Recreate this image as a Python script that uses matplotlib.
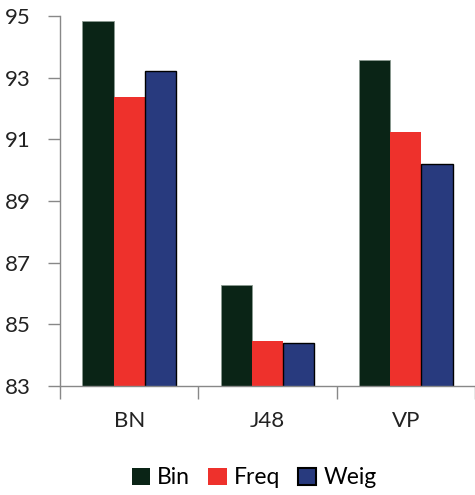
import numpy as np
from matplotlib import pyplot as plt
from matplotlib.patches import Patch

plt.rcParams["font.family"] = ["Lato", "DejaVu Sans"]

categories = ["BN", "J48", "VP"]
series_names = ["Bin", "Freq", "Weig"]
bin_vals = [94.85, 86.27, 93.57]
freq_vals = [92.37, 84.45, 91.23]
weig_vals = [93.22, 84.38, 90.2]
y_ticks = [83, 85, 87, 89, 91, 93, 95]

colors = ["#0a2416", "#ee312c", "#283a7e"]
edges = ["#8a9a90", "none", "black"]

fig = plt.figure(figsize=(4.75, 4.95), dpi=100)
ax = fig.add_axes([60 / 475, 1 - 386 / 495, 1 - 60 / 475, 370 / 495])

x = np.arange(len(categories))
w = 0.225
for i, vals in enumerate([bin_vals, freq_vals, weig_vals]):
    ax.bar(x + (i - 1) * w, vals, width=w, color=colors[i],
           edgecolor=edges[i], linewidth=1.0 if i == 2 else 0.6,
           bottom=0, zorder=2)

ax.set_ylim(83, 95)
ax.set_xlim(-0.5, 2.5)
ax.set_yticks(y_ticks)
ax.set_xticks(x)
ax.set_xticklabels(categories)
ax.set_xticks([-0.5, 0.5, 1.5, 2.5], minor=True)
ax.tick_params(axis="x", which="major", length=0, pad=18, labelsize=16,
               labelcolor="#222222")
ax.tick_params(axis="x", which="minor", length=9, width=1, color="#888888",
               direction="out")
ax.tick_params(axis="y", length=9, width=1, color="#888888", pad=12,
               labelsize=16, labelcolor="#222222")

for s in ["top", "right"]:
    ax.spines[s].set_visible(False)
for s in ["left", "bottom"]:
    ax.spines[s].set_color("#888888")
    ax.spines[s].set_linewidth(1)

handles = [Patch(facecolor=colors[i], edgecolor="black" if i == 2 else colors[i],
                 linewidth=1.5 if i == 2 else 0) for i in range(3)]
fig.legend(handles, series_names, loc="center", bbox_to_anchor=(0.535, 1 - 478 / 495),
           ncol=3, frameon=False, fontsize=16.5, handlelength=0.8, handleheight=0.8,
           handletextpad=0.3, columnspacing=0.8)

fig.savefig("out.png", dpi=100)
